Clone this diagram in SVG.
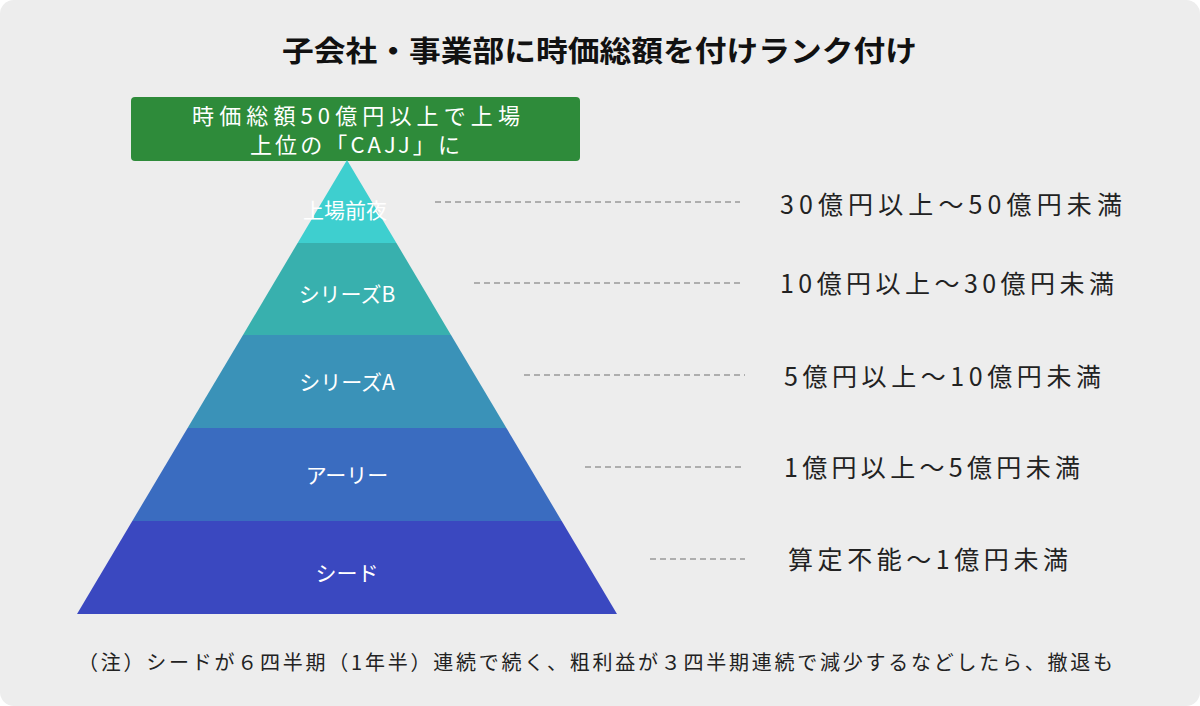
<svg xmlns="http://www.w3.org/2000/svg" width="1200" height="706" viewBox="0 0 1200 706">
<style>
text{font-family:"Noto Sans CJK JP","Noto Sans",sans-serif}
.lbl{fill:#fff;font-size:21px;text-anchor:middle}
.rng{fill:#222;font-size:25px}
.dash{stroke:#999;stroke-width:1.5;stroke-dasharray:6 4}
</style>
<rect x="0" y="0" width="1200" height="706" rx="14" fill="#ededed"/>
<text x="282" y="62" font-size="29" font-weight="bold" fill="#111" textLength="635" lengthAdjust="spacingAndGlyphs">子会社・事業部に時価総額を付けランク付け</text>
<g id="top">
<rect x="131" y="97" width="449" height="64" rx="4" fill="#2e8b3a"/>
<text x="192" y="124" font-size="22" fill="#fff" textLength="328" lengthAdjust="spacing">時価総額50億円以上で上場</text>
<text x="250" y="153" font-size="22" fill="#fff" textLength="210" lengthAdjust="spacing">上位の「CAJJ」に</text>
</g>
<g id="pre"><polygon points="347,160 396.4,243 297.6,243" fill="#3ecfcf"/><text x="345" y="218" class="lbl" font-size="16">上場前夜</text></g>
<g id="seriesB"><polygon points="297.6,243 396.4,243 451,335 243,335" fill="#38b0ae"/><text x="347" y="302" class="lbl">シリーズB</text></g>
<g id="seriesA"><polygon points="243,335 451,335 506.4,428 187.6,428" fill="#3a92b8"/><text x="347" y="390" class="lbl">シリーズA</text></g>
<g id="early"><polygon points="187.6,428 506.4,428 561.7,521 132.3,521" fill="#3a6cc0"/><text x="347" y="483" class="lbl">アーリー</text></g>
<g id="seed"><polygon points="132.3,521 561.7,521 617,614 77,614" fill="#3a48c0"/><text x="347" y="581" class="lbl">シード</text></g>
<g id="connectors">
<line class="dash" x1="435" y1="202" x2="740" y2="202"/>
<line class="dash" x1="474" y1="283" x2="740" y2="283"/>
<line class="dash" x1="524" y1="375" x2="745" y2="375"/>
<line class="dash" x1="585" y1="467" x2="745" y2="467"/>
<line class="dash" x1="650" y1="559" x2="745" y2="559"/>
</g>
<text x="780" y="214" class="rng" textLength="342" lengthAdjust="spacing">30億円以上～50億円未満</text>
<text x="780" y="293" class="rng" textLength="334" lengthAdjust="spacing">10億円以上～30億円未満</text>
<text x="784" y="386" class="rng" textLength="317" lengthAdjust="spacing">5億円以上～10億円未満</text>
<text x="784" y="477" class="rng" textLength="296" lengthAdjust="spacing">1億円以上～5億円未満</text>
<text x="788" y="569" class="rng" textLength="280" lengthAdjust="spacing">算定不能～1億円未満</text>
<text x="78" y="670" font-size="20" fill="#222" textLength="1035" lengthAdjust="spacing">（注）シードが６四半期（1年半）連続で続く、粗利益が３四半期連続で減少するなどしたら、撤退も</text>
</svg>
